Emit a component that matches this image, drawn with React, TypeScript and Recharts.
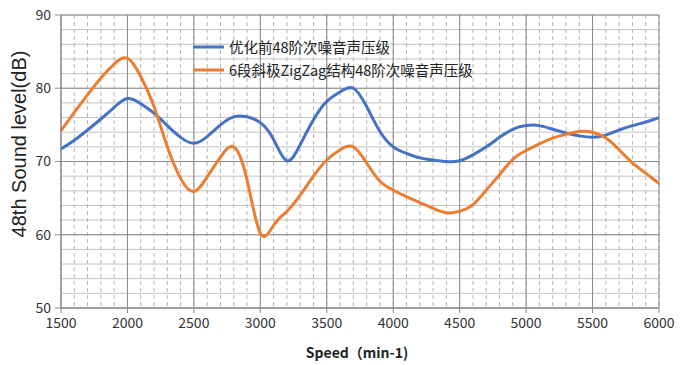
import React from 'react';
import { LineChart, Line, XAxis, YAxis, CartesianGrid, Legend } from 'recharts';

const speeds = [
  1500, 1600, 1700, 1800, 1900, 2000, 2100, 2200, 2300, 2400,
  2500, 2600, 2700, 2800, 2900, 3000, 3100, 3200, 3300, 3400,
  3500, 3600, 3700, 3800, 3900, 4000, 4100, 4200, 4300, 4400,
  4500, 4600, 4700, 4800, 4900, 5000, 5100, 5200, 5300, 5400,
  5500, 5600, 5700, 5800, 5900, 6000,
];

// 优化前
const beforeLevels = [
  71.7, 72.9, 74.3, 75.8, 77.4, 78.6, 77.9, 76.6, 74.9, 73.3,
  72.5, 73.4, 75.0, 76.1, 76.1, 75.3, 73.0, 70.1, 72.3, 75.7,
  78.2, 79.5, 80.0, 77.5, 74.1, 72.0, 71.1, 70.5, 70.2, 70.0,
  70.1, 70.9, 72.0, 73.3, 74.4, 74.9, 74.9, 74.4, 73.9, 73.5,
  73.3, 73.6, 74.3, 74.9, 75.4, 76.0,
];

// 6段斜极ZigZag
const zigzagLevels = [
  74.2, 76.7, 79.1, 81.4, 83.3, 84.1, 81.6, 77.5, 72.0, 67.7,
  65.9, 67.9, 70.6, 72.0, 67.5, 60.2, 61.3, 63.2, 65.4, 68.0,
  70.2, 71.6, 72.0, 69.8, 67.3, 66.1, 65.2, 64.4, 63.6, 63.0,
  63.2, 64.1, 66.1, 68.2, 70.3, 71.5, 72.4, 73.2, 73.7, 74.1,
  74.0, 73.2, 71.6, 69.8, 68.4, 67.0,
];

const seriesNames = ['优化前48阶次噪音声压级', '6段斜极ZigZag结构48阶次噪音声压级'];
const xTicks = [1500, 2000, 2500, 3000, 3500, 4000, 4500, 5000, 5500, 6000];
const yTicks = [50, 60, 70, 80, 90];

const data = speeds.map((s, i) => ({
  speed: s,
  before: beforeLevels[i],
  zigzag: zigzagLevels[i],
}));

// minor grid: every 100 rpm, every 2 dB
const minorX: number[] = [];
for (let v = 1500; v <= 6000; v += 100) minorX.push(v);
const minorY: number[] = [];
for (let v = 50; v <= 90; v += 2) minorY.push(v);

const cjk = "'Noto Sans CJK SC', 'Noto Sans', sans-serif";

const XTitle = (props: any) => {
  const vb = props.viewBox || { x: 61, width: 598 };
  return (
    <text
      x={vb.x + vb.width / 2 - 3}
      y={352}
      textAnchor="middle"
      dominantBaseline="central"
      fontSize={14}
      fontWeight="bold"
      fontFamily={cjk}
      fill="#222"
    >
      Speed（min-1)
    </text>
  );
};

const YTitle = () => (
  <text
    x={19}
    y={144}
    transform="rotate(-90, 19, 144)"
    textAnchor="middle"
    dominantBaseline="central"
    fontSize={20}
    fontFamily="'Liberation Sans', Arial, sans-serif"
    fill="#222"
  >
    48th Sound level(dB)
  </text>
);

const renderLegend = (props: any) => {
  // keep series order, not alphabetical
  const items = [...props.payload].sort(
    (a: any, b: any) => seriesNames.indexOf(a.value) - seriesNames.indexOf(b.value)
  );
  return (
    <div>
      {items.map((entry: any) => (
        <div key={entry.value} style={{ display: 'flex', alignItems: 'center', height: 23 }}>
          <svg width={31} height={4} style={{ marginRight: 5 }}>
            <line x1={0} y1={2} x2={31} y2={2} stroke={entry.color} strokeWidth={3} />
          </svg>
          <span style={{ fontSize: 14.5, color: '#222', fontFamily: cjk, whiteSpace: 'nowrap' }}>
            {entry.value}
          </span>
        </div>
      ))}
    </div>
  );
};

const App = () => {
  return (
    <div style={{ position: 'absolute', left: 0, top: 0, width: 681, height: 365, background: '#fff' }}>
      <LineChart
        width={681}
        height={365}
        data={data}
        margin={{ top: 15, right: 22, bottom: 26, left: 0 }}
      >
        <CartesianGrid horizontal={true} vertical={false} horizontalValues={minorY} stroke="#c4c4c4" />
        <CartesianGrid horizontal={false} vertical={true} verticalValues={minorX} stroke="#b4b4b4" strokeDasharray="4 3" />
        <CartesianGrid stroke="#8a8a8a" />
        <XAxis
          dataKey="speed"
          type="number"
          domain={[1500, 6000]}
          ticks={xTicks}
          interval={0}
          height={31}
          tickSize={5}
          tickMargin={5}
          stroke="#8a8a8a"
          tick={{ fontSize: 14, fill: '#333', fontFamily: cjk }}
          label={(p: any) => <XTitle {...p} />}
        />
        <YAxis
          type="number"
          domain={[50, 90]}
          ticks={yTicks}
          interval={0}
          width={61}
          tickSize={6}
          tickMargin={4}
          stroke="#8a8a8a"
          tick={{ fontSize: 14, fill: '#333', fontFamily: cjk }}
          label={() => <YTitle />}
        />
        <Legend
          layout="vertical"
          align="center"
          verticalAlign="middle"
          content={renderLegend}
          wrapperStyle={{ left: 193, top: 35, width: 'auto', height: 'auto' }}
        />
        <Line
          name={seriesNames[0]}
          type="natural"
          dataKey="before"
          stroke="#4472C4"
          strokeWidth={3}
          dot={false}
          isAnimationActive={false}
        />
        <Line
          name={seriesNames[1]}
          type="natural"
          dataKey="zigzag"
          stroke="#ED7D31"
          strokeWidth={3}
          dot={false}
          isAnimationActive={false}
        />
      </LineChart>
    </div>
  );
};

export default App;
